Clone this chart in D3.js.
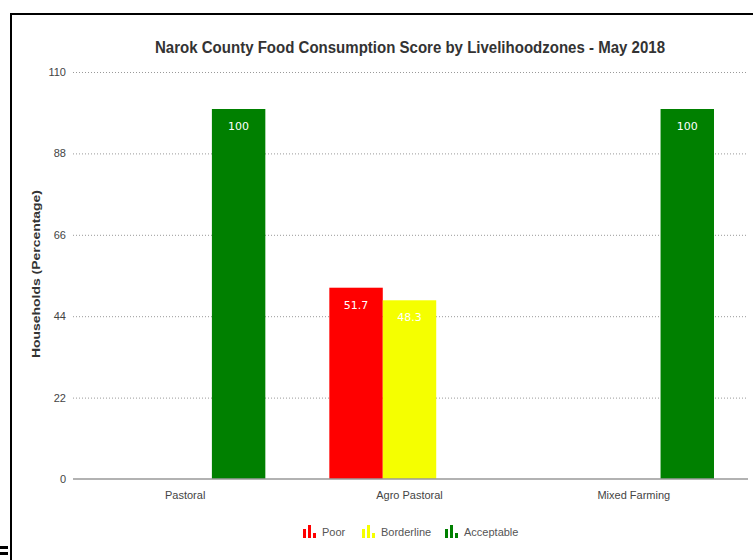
<!DOCTYPE html>
<html>
<head>
<meta charset="utf-8">
<script src="https://cdn.jsdelivr.net/npm/d3@7/dist/d3.min.js"></script>
<style>
  html, body { margin: 0; padding: 0; background: #fff; }
  svg { display: block; }
</style>
</head>
<body>
<svg id="chart"></svg>
<script>
// page size
var width = 753;
var height = 560;
var padding = { top: 72, right: 7, bottom: 81, left: 73 };

// data
var zones = ["Pastoral", "Agro Pastoral", "Mixed Farming"];
var seriesNames = ["Poor", "Borderline", "Acceptable"];
var seriesColors = ["#ff0000", "#f5ff00", "#008000"];
var poor = [0, 51.7, 0];
var borderline = [0, 48.3, 0];
var acceptable = [100, 0, 100];
var yTicks = [0, 22, 44, 66, 88, 110];

var seriesValues = [poor, borderline, acceptable];
var rows = [];
zones.forEach(function(z, i) {
  seriesNames.forEach(function(s, j) {
    rows.push({ zone: z, series: s, value: seriesValues[j][i], color: seriesColors[j] });
  });
});

var svg = d3.select("#chart")
  .attr("width", width)
  .attr("height", height)
  .attr("viewBox", [0, 0, width, height]);

// frame
svg.append("rect")
  .attr("x", 11).attr("y", 14)
  .attr("width", 780).attr("height", 580)
  .attr("fill", "none")
  .attr("stroke", "#000")
  .attr("stroke-width", 2);
svg.append("rect").attr("x", 0).attr("y", 546).attr("width", 8).attr("height", 3).attr("fill", "#000");
svg.append("rect").attr("x", 0).attr("y", 552).attr("width", 8).attr("height", 3).attr("fill", "#000");

var x0 = d3.scaleBand()
  .domain(zones)
  .range([padding.left, width - padding.right])
  .paddingInner(0)
  .paddingOuter(0);

var x1 = d3.scaleBand()
  .domain(seriesNames)
  .range([32, x0.bandwidth() - 32]);

var y = d3.scaleLinear()
  .domain([0, 110])
  .range([height - padding.bottom, padding.top]);

// grid
var grid = svg.append("g");
grid.selectAll("line")
  .data(yTicks.filter(function(d) { return d > 0; }))
  .enter().append("line")
  .attr("x1", padding.left)
  .attr("x2", width - padding.right)
  .attr("y1", function(d) { return y(d) + 0.5; })
  .attr("y2", function(d) { return y(d) + 0.5; })
  .attr("stroke", "#999")
  .attr("stroke-width", 1)
  .attr("stroke-dasharray", "1,2");

// y axis
var yAxis = d3.axisLeft(y).tickValues(yTicks).tickSize(0).tickPadding(7);
svg.append("g")
  .attr("transform", "translate(" + padding.left + ",0)")
  .call(yAxis)
  .call(function(g) { g.select(".domain").remove(); })
  .selectAll("text")
  .attr("font-family", "Liberation Sans, Arial, sans-serif")
  .attr("font-size", "11px")
  .attr("fill", "#444");

// bars
var groups = svg.append("g").selectAll("g")
  .data(rows)
  .enter().append("g");

groups.filter(function(d) { return d.value > 0; })
  .append("rect")
  .attr("x", function(d) { return x0(d.zone) + x1(d.series); })
  .attr("y", function(d) { return y(d.value); })
  .attr("width", x1.bandwidth())
  .attr("height", function(d) { return y(0) - y(d.value); })
  .attr("fill", function(d) { return d.color; });

groups.filter(function(d) { return d.value > 0; })
  .append("text")
  .attr("x", function(d) { return x0(d.zone) + x1(d.series) + x1.bandwidth() / 2; })
  .attr("y", function(d) { return y(d.value) + 21; })
  .attr("text-anchor", "middle")
  .attr("font-family", "DejaVu Sans, sans-serif")
  .attr("font-size", "11px")
  .attr("fill", "#fff")
  .text(function(d) { return d.value; });

// baseline + x axis
var xAxis = d3.axisBottom(x0).tickSize(0).tickPadding(12);
svg.append("g")
  .attr("transform", "translate(0," + y(0) + ")")
  .call(xAxis)
  .call(function(g) {
    g.select(".domain").attr("stroke", "#999").attr("stroke-width", 1.5)
      .attr("d", "M" + padding.left + ",0H" + (width - 5));
  })
  .selectAll("text")
  .attr("font-family", "Liberation Sans, Arial, sans-serif")
  .attr("font-size", "11px")
  .attr("fill", "#444");

// title
svg.append("text")
  .attr("x", 410)
  .attr("y", 53)
  .attr("text-anchor", "middle")
  .attr("font-family", "Liberation Sans, Arial, sans-serif")
  .attr("font-size", "16px")
  .attr("font-weight", "bold")
  .attr("fill", "#333")
  .attr("textLength", 510)
  .attr("lengthAdjust", "spacingAndGlyphs")
  .text("Narok County Food Consumption Score by Livelihoodzones - May 2018");

// y title
svg.append("text")
  .attr("transform", "translate(40,274) rotate(-90)")
  .attr("text-anchor", "middle")
  .attr("font-family", "Liberation Sans, Arial, sans-serif")
  .attr("font-size", "11.5px")
  .attr("font-weight", "bold")
  .attr("fill", "#333")
  .attr("textLength", 168)
  .attr("lengthAdjust", "spacingAndGlyphs")
  .text("Households (Percentage)");

// legend
var legendX = [303, 362, 445];
var legend = svg.append("g").selectAll("g")
  .data(seriesNames)
  .enter().append("g")
  .attr("transform", function(d, i) { return "translate(" + legendX[i] + ",525)"; });

var iconBars = [{ x: 0, h: 9 }, { x: 5, h: 13 }, { x: 10, h: 5 }];
legend.each(function(d, i) {
  d3.select(this).selectAll("rect")
    .data(iconBars)
    .enter().append("rect")
    .attr("x", function(b) { return b.x; })
    .attr("y", function(b) { return 13 - b.h; })
    .attr("width", 3)
    .attr("height", function(b) { return b.h; })
    .attr("fill", seriesColors[i]);
});

legend.append("text")
  .attr("x", 19)
  .attr("y", 11)
  .attr("font-family", "Liberation Sans, Arial, sans-serif")
  .attr("font-size", "11px")
  .attr("fill", "#555")
  .text(function(d) { return d; });
</script>
</body>
</html>
